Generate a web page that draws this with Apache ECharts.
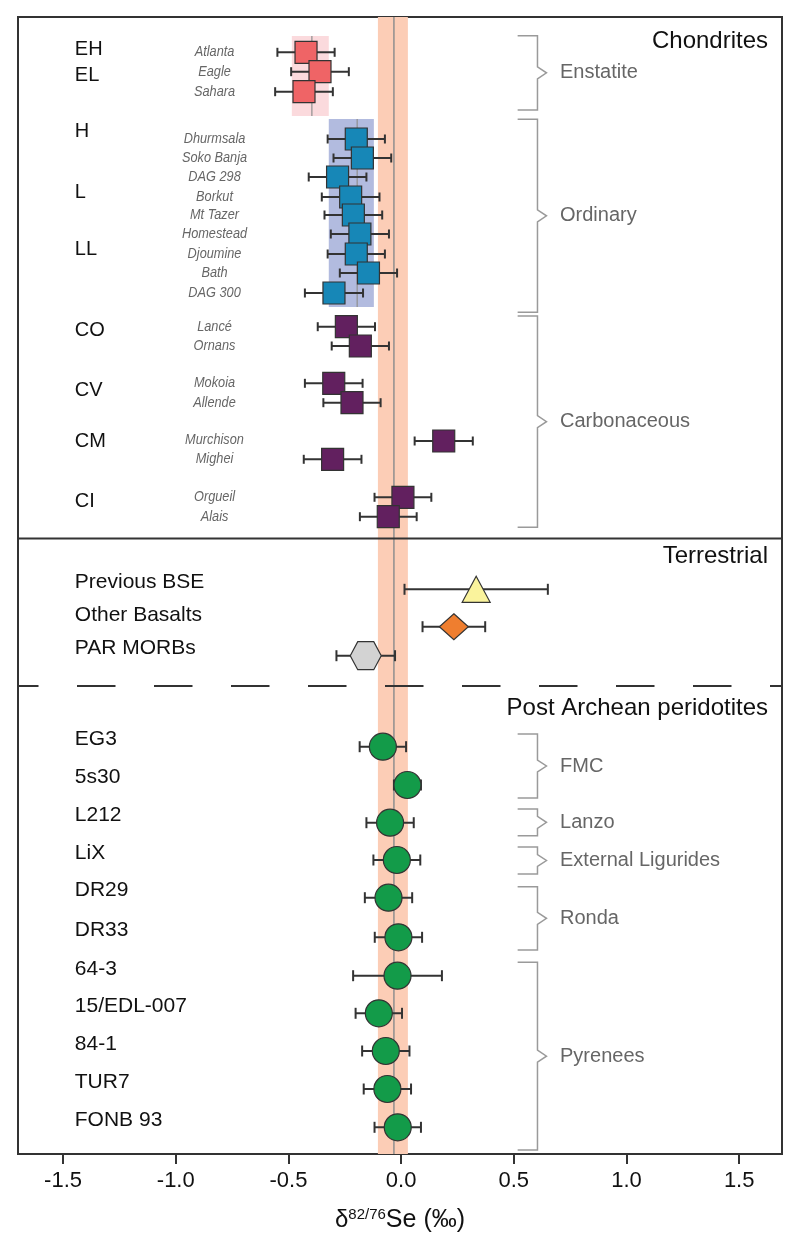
<!DOCTYPE html>
<html>
<head>
<meta charset="utf-8">
<script src="https://cdn.jsdelivr.net/npm/echarts@6/dist/echarts.min.js"></script>
<style>
  html, body { margin: 0; padding: 0; background: #fff; }
  #chart { width: 800px; height: 1251px; }
</style>
</head>
<body>
<div id="chart"></div>
<script>
// delta 82/76 Se (per mil), mean and 2SD half-width; rows = vertical slot in the frame (0 top .. 1137 bottom)
const enstatiteNames = ['Atlanta', 'Eagle', 'Sahara']
const enstatiteMean = [-0.422, -0.360, -0.431]
const enstatiteErr = [0.127, 0.128, 0.128]
const enstatiteRow = [35.3, 54.7, 74.7]

const ordinaryNames = ['Dhurmsala', 'Soko Banja', 'DAG 298', 'Borkut', 'Mt Tazer', 'Homestead', 'Djoumine', 'Bath', 'DAG 300']
const ordinaryMean = [-0.199, -0.172, -0.282, -0.224, -0.212, -0.183, -0.199, -0.145, -0.298]
const ordinaryErr = [0.127, 0.128, 0.128, 0.128, 0.128, 0.129, 0.127, 0.127, 0.129]
const ordinaryRow = [122, 141, 160, 180, 198, 217, 237, 256, 276]

const carbonNames = ['Lancé', 'Ornans', 'Mokoia', 'Allende', 'Murchison', 'Mighei', 'Orgueil', 'Alais']
const carbonMean = [-0.243, -0.181, -0.299, -0.218, 0.189, -0.304, 0.008, -0.057]
const carbonErr = [0.127, 0.127, 0.128, 0.127, 0.129, 0.128, 0.126, 0.126]
const carbonRow = [309.7, 329, 366.3, 385.7, 424, 442.3, 480.3, 499.7]

const classNames = ['EH', 'EL', 'H', 'L', 'LL', 'CO', 'CV', 'CM', 'CI']
const classRow = [32, 58, 114, 175, 232, 313.7, 373.7, 424.7, 484.7]

const terrNames = ['Previous BSE', 'Other Basalts', 'PAR MORBs']
const terrMean = [0.333, 0.234, -0.157]
const terrErr = [0.318, 0.139, 0.130]
const terrRow = [572.3, 609.7, 638.7]
const terrLabelRow = [565.7, 598, 631.3]

const peridNames = ['EG3', '5s30', 'L212', 'LiX', 'DR29', 'DR33', '64-3', '15/EDL-007', '84-1', 'TUR7', 'FONB 93']
const peridMean = [-0.081, 0.028, -0.049, -0.019, -0.056, -0.012, -0.016, -0.099, -0.068, -0.061, -0.015]
const peridErr = [0.103, 0.060, 0.105, 0.104, 0.105, 0.105, 0.197, 0.103, 0.105, 0.105, 0.103]
const peridRow = [729.7, 768, 805.7, 843, 880.7, 920.3, 958.7, 996.3, 1034, 1072, 1110.3]
const peridLabelRow = [722, 760.3, 798, 836.3, 873.7, 913, 952.3, 989, 1027, 1065.7, 1103.7]

const groupNames = ['Enstatite', 'Ordinary', 'Carbonaceous', 'FMC', 'Lanzo', 'External Ligurides', 'Ronda', 'Pyrenees']
const groupTop = [18.7, 102.3, 299, 717, 792, 830, 869.7, 945.3]
const groupBottom = [93, 295.3, 510.3, 781, 818.7, 857, 933, 1133]

const sectionNames = ['Chondrites', 'Terrestrial', 'Post Archean peridotites']
const sectionRow = [24.7, 539.7, 691]

// class ranges: [low, high, mean]
const enstatiteRange = [-0.485, -0.321, -0.396]
const ordinaryRange = [-0.321, -0.121, -0.195]
const bseBand = [-0.103, 0.030, -0.032]

const xTicks = [-1.5, -1.0, -0.5, 0.0, 0.5, 1.0, 1.5]

// ---- layout ----
const X_MIN = -1.7
const X_MAX = 1.69
const ROW_MAX = 1137
const LABEL_X = -1.448
const NAME_X = -0.828
const BRACKET_X = 0.605
const BRACKET_TICK_X = 0.517
const GROUP_TEXT_X = 0.705
const TITLE_X = 1.628
const SOLID_SEP = 521.5
const DASH_SEP = 669

const FONT = "'Liberation Sans', Arial, sans-serif"
const INK = '#333'

const chart = echarts.init(document.getElementById('chart'))

function markerShape(shape, cx, cy, size, color) {
  const s = size / 2
  const style = { fill: color, stroke: INK, lineWidth: 1.2 }
  if (shape === 'square') return { type: 'rect', shape: { x: cx - s, y: cy - s, width: size, height: size }, style }
  if (shape === 'circle') return { type: 'circle', shape: { cx, cy, r: s }, style }
  if (shape === 'triangle') return { type: 'polygon', shape: { points: [[cx, cy - 13], [cx + 14, cy + 13], [cx - 14, cy + 13]] }, style }
  if (shape === 'diamond') return { type: 'polygon', shape: { points: [[cx, cy - 13], [cx + 14.5, cy], [cx, cy + 13], [cx - 14.5, cy]] }, style }
  // hexagon with pointed left/right ends
  return { type: 'polygon', shape: { points: [[cx - 15.5, cy], [cx - 8, cy - 14], [cx + 8, cy - 14], [cx + 15.5, cy], [cx + 8, cy + 14], [cx - 8, cy + 14]] }, style }
}

function errorSeries(name, means, errs, rows, shapes, colors, size, cap) {
  return {
    type: 'custom',
    name,
    z: 5,
    data: means.map((m, i) => [m, rows[i], errs[i]]),
    renderItem(params, api) {
      const i = params.dataIndex
      const m = api.value(0), y = api.value(1), e = api.value(2)
      const c = api.coord([m, y])
      const l = api.coord([m - e, y])
      const r = api.coord([m + e, y])
      const line = { stroke: INK, lineWidth: 2 }
      const shape = Array.isArray(shapes) ? shapes[i] : shapes
      const color = Array.isArray(colors) ? colors[i] : colors
      return {
        type: 'group',
        children: [
          { type: 'line', shape: { x1: l[0], y1: c[1], x2: r[0], y2: c[1] }, style: line },
          { type: 'line', shape: { x1: l[0], y1: c[1] - cap, x2: l[0], y2: c[1] + cap }, style: line },
          { type: 'line', shape: { x1: r[0], y1: c[1] - cap, x2: r[0], y2: c[1] + cap }, style: line },
          markerShape(shape, c[0], c[1], size, color)
        ]
      }
    }
  }
}

function textSeries(xs, rows, texts, font, color, align, squeeze) {
  return {
    type: 'custom',
    z: 6,
    silent: true,
    data: rows.map((r, i) => [Array.isArray(xs) ? xs[i] : xs, r]),
    renderItem(params, api) {
      const p = api.coord([api.value(0), api.value(1)])
      return {
        type: 'text',
        x: p[0], y: p[1],
        scaleX: squeeze || 1,
        style: { text: texts[params.dataIndex], font, fill: color, align, verticalAlign: 'middle' }
      }
    }
  }
}

function rangeSeries(range, top, bottom, fill) {
  return {
    type: 'custom',
    z: 2,
    silent: true,
    data: [[range[0], range[1], range[2], top, bottom]],
    renderItem(params, api) {
      const a = api.coord([api.value(0), api.value(3)])
      const b = api.coord([api.value(1), api.value(4)])
      const m = api.coord([api.value(2), api.value(3)])
      return {
        type: 'group',
        children: [
          { type: 'rect', shape: { x: a[0], y: a[1], width: b[0] - a[0], height: b[1] - a[1] }, style: { fill } },
          { type: 'line', shape: { x1: m[0], y1: a[1], x2: m[0], y2: b[1] }, style: { stroke: '#8f8f8f', lineWidth: 1.2 } }
        ]
      }
    }
  }
}

const option = {
  backgroundColor: '#fff',
  animation: false,
  grid: { left: 18, right: 18, top: 17, bottom: 97, show: true, borderColor: INK, borderWidth: 2, backgroundColor: 'transparent' },
  xAxis: {
    type: 'value',
    min: X_MIN,
    max: X_MAX,
    axisLine: { show: true, onZero: false, lineStyle: { color: INK, width: 2 } },
    axisTick: { show: true, length: 10, customValues: xTicks, lineStyle: { color: INK, width: 2 } },
    axisLabel: { customValues: xTicks, formatter: v => v.toFixed(1), fontFamily: FONT, fontSize: 22, color: '#111', margin: 16 },
    splitLine: { show: false },
    name: '{d|δ}{sup|82/76}{se|Se (‰)}',
    nameLocation: 'middle',
    nameGap: 53,
    nameTextStyle: {
      rich: {
        d: { fontFamily: FONT, fontSize: 24, color: '#111' },
        sup: { fontFamily: FONT, fontSize: 15, color: '#111', padding: [0, 0, 12, 0] },
        se: { fontFamily: FONT, fontSize: 25, color: '#111' }
      }
    }
  },
  yAxis: { type: 'value', min: 0, max: ROW_MAX, inverse: true, show: false },
  series: [
    // BSE band and reference line
    {
      type: 'custom',
      z: 1,
      silent: true,
      data: [bseBand],
      renderItem(params, api) {
        const a = api.coord([api.value(0), 0])
        const b = api.coord([api.value(1), ROW_MAX])
        const m = api.coord([api.value(2), 0])
        return {
          type: 'group',
          children: [
            { type: 'rect', shape: { x: a[0], y: a[1], width: b[0] - a[0], height: b[1] - a[1] }, style: { fill: '#fccdb6' } },
            { type: 'line', shape: { x1: m[0], y1: a[1], x2: m[0], y2: b[1] }, style: { stroke: '#8f8f8f', lineWidth: 1.5 } }
          ]
        }
      }
    },
    rangeSeries(enstatiteRange, 19, 99, '#fbdadd'),
    rangeSeries(ordinaryRange, 102, 290, '#b2bbdf'),
    // section separators
    {
      type: 'custom',
      z: 3,
      silent: true,
      data: [[SOLID_SEP, 0], [DASH_SEP, 1]],
      renderItem(params, api) {
        const a = api.coord([X_MIN, api.value(0)])
        const b = api.coord([X_MAX, api.value(0)])
        const dashed = api.value(1) === 1
        return {
          type: 'line',
          shape: { x1: a[0], y1: a[1], x2: b[0], y2: b[1] },
          style: dashed
            ? { stroke: INK, lineWidth: 2, lineDash: [38.5, 38.5], lineDashOffset: 18 }
            : { stroke: INK, lineWidth: 2 }
        }
      }
    },
    // group brackets
    {
      type: 'custom',
      z: 3,
      silent: true,
      data: groupTop.map((t, i) => [t, groupBottom[i]]),
      renderItem(params, api) {
        const top = api.coord([BRACKET_X, api.value(0)])
        const bot = api.coord([BRACKET_X, api.value(1)])
        const left = api.coord([BRACKET_TICK_X, 0])[0]
        const tx = api.coord([GROUP_TEXT_X, 0])[0]
        const vx = top[0]
        const mid = (top[1] + bot[1]) / 2
        return {
          type: 'group',
          children: [
            {
              type: 'polyline',
              shape: { points: [[left, top[1]], [vx, top[1]], [vx, mid - 6], [vx + 9, mid], [vx, mid + 6], [vx, bot[1]], [left, bot[1]]] },
              style: { stroke: '#9a9a9a', lineWidth: 1.5, fill: null }
            },
            {
              type: 'text', x: tx, y: mid,
              style: { text: groupNames[params.dataIndex], font: '20px ' + FONT, fill: '#666', align: 'left', verticalAlign: 'middle' }
            }
          ]
        }
      }
    },
    errorSeries('Enstatite', enstatiteMean, enstatiteErr, enstatiteRow, 'square', '#ef6466', 22, 4.5),
    errorSeries('Ordinary', ordinaryMean, ordinaryErr, ordinaryRow, 'square', '#1787b7', 22, 4.5),
    errorSeries('Carbonaceous', carbonMean, carbonErr, carbonRow, 'square', '#62205f', 22, 4.5),
    errorSeries('Terrestrial', terrMean, terrErr, terrRow, ['triangle', 'diamond', 'hexagon'], ['#faf39c', '#ef7e2f', '#d3d3d3'], 28, 5.5),
    errorSeries('Peridotites', peridMean, peridErr, peridRow, 'circle', '#139b49', 27, 5.5),
    textSeries(LABEL_X, classRow, classNames, '20px ' + FONT, '#111', 'left'),
    textSeries(NAME_X, enstatiteRow, enstatiteNames, 'italic 15px ' + FONT, '#666', 'center', 0.85),
    textSeries(NAME_X, ordinaryRow, ordinaryNames, 'italic 15px ' + FONT, '#666', 'center', 0.85),
    textSeries(NAME_X, carbonRow.map((r, i) => i === 4 ? 423 : r), carbonNames, 'italic 15px ' + FONT, '#666', 'center', 0.85),
    textSeries(LABEL_X, terrLabelRow, terrNames, '21px ' + FONT, '#111', 'left'),
    textSeries(LABEL_X, peridLabelRow, peridNames, '21px ' + FONT, '#111', 'left'),
    textSeries(TITLE_X, sectionRow, sectionNames, '24px ' + FONT, '#111', 'right')
  ]
}

chart.setOption(option)
</script>
</body>
</html>
